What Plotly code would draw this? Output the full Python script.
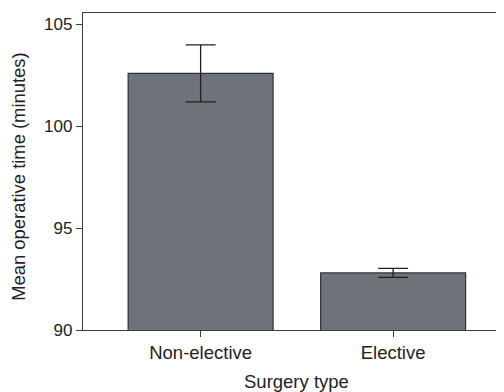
import plotly.graph_objects as go

categories = ["Non-elective", "Elective"]
means = [102.6, 92.8]
errors = [1.4, 0.22]
y_ticks = [90, 95, 100, 105]

# page has an 8px body margin, so the figure is sized 8px smaller
W, H = 496, 384
L, R, T, B = 75, 0, 5, 61.5
pw, ph = W - L - R, H - T - B

fig = go.Figure()
fig.add_trace(go.Bar(
    x=categories, y=means, base=0,
    width=0.753,
    marker=dict(color="#6e7279", line=dict(color="#2f3236", width=1.2)),
    error_y=dict(type="data", array=errors, visible=True, color="#1e2022",
                 thickness=1.3, width=15),
))

fig.update_layout(
    width=W, height=H,
    margin=dict(l=L, r=R, t=T, b=B, autoexpand=False),
    paper_bgcolor="white", plot_bgcolor="white",
    font=dict(family="Liberation Sans, Arial, sans-serif", color="#222", size=16),
    showlegend=False,
)
fig.update_xaxes(
    range=[-0.611, 1.576],
    showline=True, linecolor="#3a3d42", linewidth=1.3, mirror=True,
    ticks="outside", ticklen=6, tickcolor="#3a3d42", tickwidth=1,
    tickfont=dict(size=18.5), showgrid=False,
)
fig.update_yaxes(
    range=[90, 105.56], tickvals=y_ticks,
    showline=True, linecolor="#3a3d42", linewidth=1.3,
    ticks="outside", ticklen=6, tickcolor="#3a3d42", tickwidth=1,
    tickfont=dict(size=17), showgrid=False, zeroline=False,
)
fig.add_annotation(
    text="Surgery type", xref="paper", yref="paper",
    x=(288.5 - L) / pw, y=(H - B - 374) / ph, yanchor="middle", xanchor="center",
    showarrow=False, font=dict(size=18.5),
)
fig.add_annotation(
    text="Mean operative time (minutes)", xref="paper", yref="paper",
    x=(11 - L) / pw, y=(H - B - 169) / ph, yanchor="middle", xanchor="center",
    textangle=-90, showarrow=False, font=dict(size=18.4),
)
fig.write_html("out.html")
